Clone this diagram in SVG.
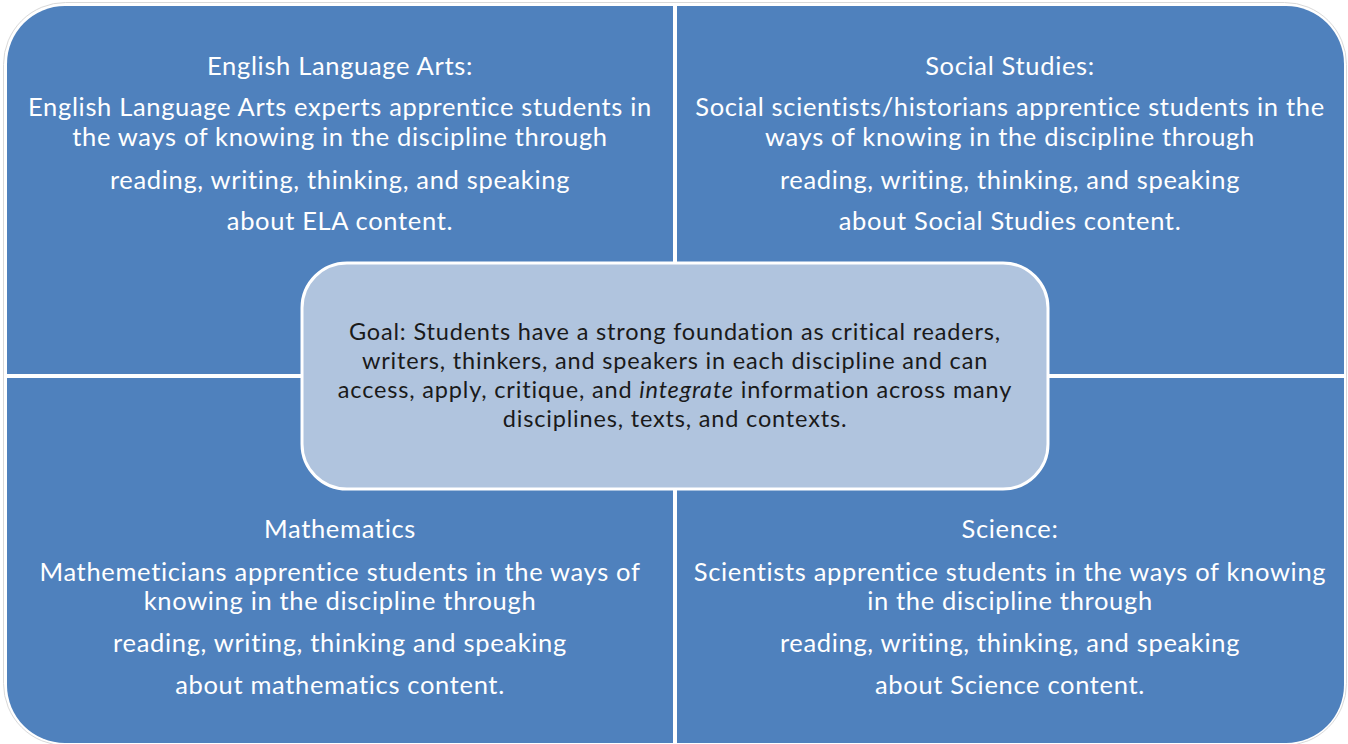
<svg xmlns="http://www.w3.org/2000/svg" width="1348" height="744" viewBox="0 0 1348 744">
  <style>
    .quad { fill: #4f81bd; }
    text { font-variant-ligatures: none; }
    .qt { font-family: Lato, "Open Sans", sans-serif; font-size: 25.5px; letter-spacing: 0.67px; fill: #ffffff; text-anchor: middle; }
    .gt { font-family: Lato, "Open Sans", sans-serif; font-size: 23.5px; letter-spacing: 0.83px; fill: #1a1a1a; text-anchor: middle; }
  </style>
  <rect width="1348" height="744" fill="#ffffff"/>
  <!-- faint outline around the whole grid -->
  <rect x="3.5" y="2.5" width="1343" height="743" rx="62" fill="none" stroke="#d9d9d9" stroke-width="1"/>

  <g id="ela">
    <path class="quad" d="M7,374 V64 A58,58 0 0 1 65,6 H673 V374 Z"/>
    <text class="qt" x="340" y="75">English Language Arts:</text>
    <text class="qt" x="340" y="116">English Language Arts experts apprentice students in</text>
    <text class="qt" x="340" y="146">the ways of knowing in the discipline through</text>
    <text class="qt" x="340" y="189">reading, writing, thinking, and speaking</text>
    <text class="qt" x="340" y="230">about ELA content.</text>
  </g>

  <g id="social-studies">
    <path class="quad" d="M677,6 H1286 A58,58 0 0 1 1344,64 V374 H677 Z"/>
    <text class="qt" x="1010" y="75">Social Studies:</text>
    <text class="qt" x="1010" y="116">Social scientists/historians apprentice students in the</text>
    <text class="qt" x="1010" y="146">ways of knowing in the discipline through</text>
    <text class="qt" x="1010" y="189">reading, writing, thinking, and speaking</text>
    <text class="qt" x="1010" y="230">about Social Studies content.</text>
  </g>

  <g id="mathematics">
    <path class="quad" d="M7,378 H673 V743 H65 A58,58 0 0 1 7,685 Z"/>
    <text class="qt" x="340" y="538">Mathematics</text>
    <text class="qt" x="340" y="581">Mathemeticians apprentice students in the ways of</text>
    <text class="qt" x="340" y="610">knowing in the discipline through</text>
    <text class="qt" x="340" y="652">reading, writing, thinking and speaking</text>
    <text class="qt" x="340" y="694">about mathematics content.</text>
  </g>

  <g id="science">
    <path class="quad" d="M677,378 H1344 V685 A58,58 0 0 1 1286,743 H677 Z"/>
    <text class="qt" x="1010" y="538">Science:</text>
    <text class="qt" x="1010" y="581">Scientists apprentice students in the ways of knowing</text>
    <text class="qt" x="1010" y="610">in the discipline through</text>
    <text class="qt" x="1010" y="652">reading, writing, thinking, and speaking</text>
    <text class="qt" x="1010" y="694">about Science content.</text>
  </g>

  <g id="goal">
    <rect x="302" y="263" width="746" height="226" rx="45" fill="#b0c4de" stroke="#ffffff" stroke-width="3"/>
    <text class="gt" x="675" y="340">Goal: Students have a strong foundation as critical readers,</text>
    <text class="gt" x="675" y="369">writers, thinkers, and speakers in each discipline and can</text>
    <text class="gt" x="675" y="398">access, apply, critique, and <tspan font-style="italic">integrate</tspan> information across many</text>
    <text class="gt" x="675" y="427">disciplines, texts, and contexts.</text>
  </g>

  <g id="connectors"/>
</svg>
